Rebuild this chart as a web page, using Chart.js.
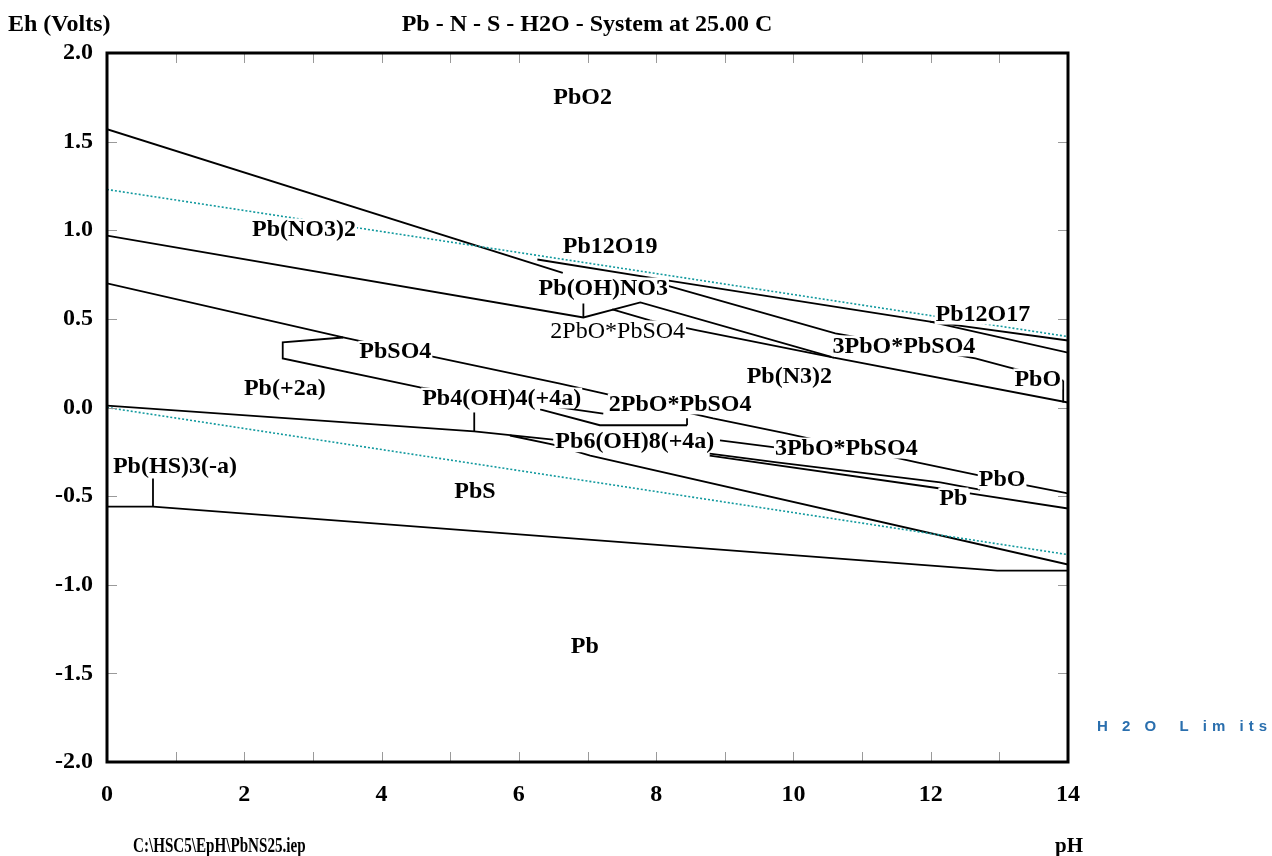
<!DOCTYPE html>
<html><head><meta charset="utf-8">
<script src="https://cdn.jsdelivr.net/npm/chart.js@4/dist/chart.umd.min.js"></script>
<style>html,body{margin:0;padding:0;background:#fff}canvas{display:block}</style>
</head><body>
<canvas id="c" width="1272" height="856"></canvas>
<script>
// Axis ticks
const pHTicks = [0, 2, 4, 6, 8, 10, 12, 14];
const ehTicks = [2.0, 1.5, 1.0, 0.5, 0.0, -0.5, -1.0, -1.5, -2.0];

// H2O stability limits (pH, Eh)
const h2oUpper = [[0, 1.23], [14, 0.40]];
const h2oLower = [[0, 0.00], [14, -0.83]];

// Phase boundaries (pH, Eh); null breaks a line
const lineA = [[0, 1.57], [6.64, 0.76]];
const lineB = [[6.27, 0.835], [8.16, 0.717], [11.99, 0.485], [14, 0.378]];
const lineB2 = [[11.99, 0.485], [14, 0.31]];
const lineC = [[0, 0.97], [6.94, 0.508], [7.77, 0.593], [10.59, 0.282], [14, 0.028]];
const tickC = [[6.94, 0.587], [6.94, 0.508]];
const lineE = [[7.36, 0.553], [7.91, 0.491], [8.6, 0.435], [10.59, 0.282]];
const lineF = [[8.16, 0.688], [10.61, 0.418], [12.65, 0.277], [13.14, 0.226], [13.74, 0.169], [13.93, 0.152]];
const boxPbO = [[13.93, 0.152], [13.93, 0.028]];
const lineG = [[0, 0.70], [3.44, 0.395], [4.52, 0.305], [6.6, 0.135], [7.23, 0.079], [8.83, -0.062], [9.91, -0.147], [11.8, -0.31], [12.72, -0.384], [13.4, -0.44], [14, -0.485]];
const lineM = [[3.44, 0.395], [2.56, 0.367], [2.56, 0.277], [4.56, 0.113], [7.23, -0.034]];
const lineN = [[6.31, -0.01], [7.18, -0.1], [8.45, -0.1]];
const tickN = [[8.45, -0.1], [8.45, -0.06]];
const lineJ = [[0, 0.011], [5.35, -0.135], [6.5, -0.181]];
const tickJ = [[5.35, -0.135], [5.35, -0.028]];
const lineK = [[5.87, -0.158], [6.5, -0.209], [7.04, -0.271], [14, -0.886]];
const lineP1 = [[8.93, -0.186], [9.76, -0.226]];
const lineQ1 = [[8.78, -0.26], [9.76, -0.31], [12.14, -0.423], [12.53, -0.45], [12.72, -0.463]];
const lineQ2 = [[8.78, -0.271], [12.14, -0.457], null, [12.57, -0.485], [14, -0.57]];
const lineL = [[0, -0.559], [0.67, -0.559], [12.97, -0.92], [14, -0.92]];
const tickL = [[0.67, -0.559], [0.67, -0.40]];

// Region labels
const labelText = ["PbO2", "Pb(NO3)2", "Pb12O19", "Pb(OH)NO3", "2PbO*PbSO4", "Pb12O17", "3PbO*PbSO4", "Pb(N3)2", "PbO", "PbSO4", "Pb(+2a)", "Pb4(OH)4(+4a)", "2PbO*PbSO4", "Pb6(OH)8(+4a)", "3PbO*PbSO4", "PbO", "Pb", "Pb(HS)3(-a)", "PbS", "Pb"];
const labelPH = [6.93, 2.87, 7.33, 7.23, 7.44, 12.76, 11.61, 9.94, 13.56, 4.2, 2.59, 5.75, 8.35, 7.69, 10.77, 13.04, 12.33, 0.99, 5.36, 6.96];
const labelEh = [1.755, 1.01, 0.914, 0.677, 0.435, 0.53, 0.35, 0.18, 0.164, 0.32, 0.113, 0.056, 0.023, -0.19, -0.226, -0.40, -0.508, -0.327, -0.468, -1.343];
const labelBold = [1, 1, 1, 1, 0, 1, 1, 1, 1, 1, 1, 1, 1, 1, 1, 1, 1, 1, 1, 1];

function pts(arr) { return arr.map(p => p === null ? {x: null, y: null} : {x: p[0], y: p[1]}); }

const blackLines = [lineA, lineB, lineB2, lineC, tickC, lineE, lineF, boxPbO, lineG, lineM, lineN, tickN, lineJ, tickJ, lineK, lineP1, lineQ1, lineQ2, lineL, tickL];
const datasets = [];
[h2oUpper, h2oLower].forEach(l => datasets.push({data: pts(l), showLine: true, borderColor: '#11999e', borderWidth: 1.6, borderDash: [2, 2], pointRadius: 0, spanGaps: false, tension: 0}));
blackLines.forEach(l => datasets.push({data: pts(l), showLine: true, borderColor: '#000', borderWidth: 1.8, pointRadius: 0, spanGaps: false, tension: 0}));

const SERIF = '"Liberation Serif", "Times New Roman", serif';

const decor = {
  id: 'decor',
  afterDatasetsDraw(chart) {
    const ctx = chart.ctx, xs = chart.scales.x, ys = chart.scales.y;
    ctx.save();
    ctx.textAlign = 'center';
    ctx.textBaseline = 'middle';
    for (let i = 0; i < labelText.length; i++) {
      ctx.font = (labelBold[i] ? 'bold ' : '') + '24px ' + SERIF;
      const x = xs.getPixelForValue(labelPH[i]);
      const y = ys.getPixelForValue(labelEh[i]);
      const w = ctx.measureText(labelText[i]).width;
      ctx.fillStyle = '#fff';
      ctx.fillRect(x - w / 2 - 1, y - 10, w + 2, 21);
      ctx.fillStyle = '#000';
      ctx.fillText(labelText[i], x, y + 1);
    }
    ctx.restore();
  },
  afterDraw(chart) {
    const ctx = chart.ctx, xs = chart.scales.x, ys = chart.scales.y;
    const a = chart.chartArea;
    ctx.save();
    // inner ticks
    ctx.strokeStyle = '#9a9a9a';
    ctx.lineWidth = 1;
    for (let p = 1; p < 14; p++) {
      const x = Math.round(xs.getPixelForValue(p)) + 0.5;
      ctx.beginPath(); ctx.moveTo(x, a.top); ctx.lineTo(x, a.top + 10);
      ctx.moveTo(x, a.bottom); ctx.lineTo(x, a.bottom - 10); ctx.stroke();
    }
    ehTicks.forEach(v => {
      const y = Math.round(ys.getPixelForValue(v)) + 0.5;
      ctx.beginPath(); ctx.moveTo(a.left, y); ctx.lineTo(a.left + 10, y);
      ctx.moveTo(a.right, y); ctx.lineTo(a.right - 10, y); ctx.stroke();
    });
    // frame
    ctx.strokeStyle = '#000';
    ctx.lineWidth = 3;
    ctx.strokeRect(a.left, a.top, a.right - a.left, a.bottom - a.top);
    // tick labels
    ctx.fillStyle = '#000';
    ctx.font = 'bold 24px ' + SERIF;
    ctx.textBaseline = 'middle';
    ctx.textAlign = 'center';
    pHTicks.forEach(p => ctx.fillText(String(p), xs.getPixelForValue(p), 795));
    ctx.textAlign = 'right';
    ehTicks.forEach(v => ctx.fillText(v.toFixed(1), 93, ys.getPixelForValue(v)));
    // titles
    ctx.textAlign = 'left';
    ctx.fillText('Eh (Volts)', 8, 25);
    ctx.textAlign = 'center';
    ctx.fillText('Pb - N - S - H2O - System at 25.00 C', 587, 25);
    ctx.font = 'bold 21px ' + SERIF;
    ctx.fillText('pH', 1069, 847);
    // file path (condensed)
    ctx.save();
    ctx.translate(133, 847);
    ctx.scale(0.72, 1);
    ctx.textAlign = 'left';
    ctx.fillText('C:\\HSC5\\EpH\\PbNS25.iep', 0, 0);
    ctx.restore();
    // legend for H2O limits
    ctx.fillStyle = '#2a6fae';
    ctx.font = 'bold 15px "Liberation Sans", Arial, sans-serif';
    ctx.textAlign = 'left';
    try { ctx.letterSpacing = '5px'; } catch (e) {}
    ctx.fillText('H 2 O  L im its', 1097, 727);
    ctx.restore();
  }
};

new Chart(document.getElementById('c'), {
  type: 'scatter',
  data: {datasets},
  options: {
    responsive: false,
    animation: false,
    events: [],
    layout: {padding: {left: 107, right: 204, top: 53, bottom: 94}},
    plugins: {legend: {display: false}, tooltip: {enabled: false}},
    scales: {
      x: {type: 'linear', min: 0, max: 14, display: false},
      y: {type: 'linear', min: -2, max: 2, display: false}
    }
  },
  plugins: [decor]
});
</script>
</body></html>
